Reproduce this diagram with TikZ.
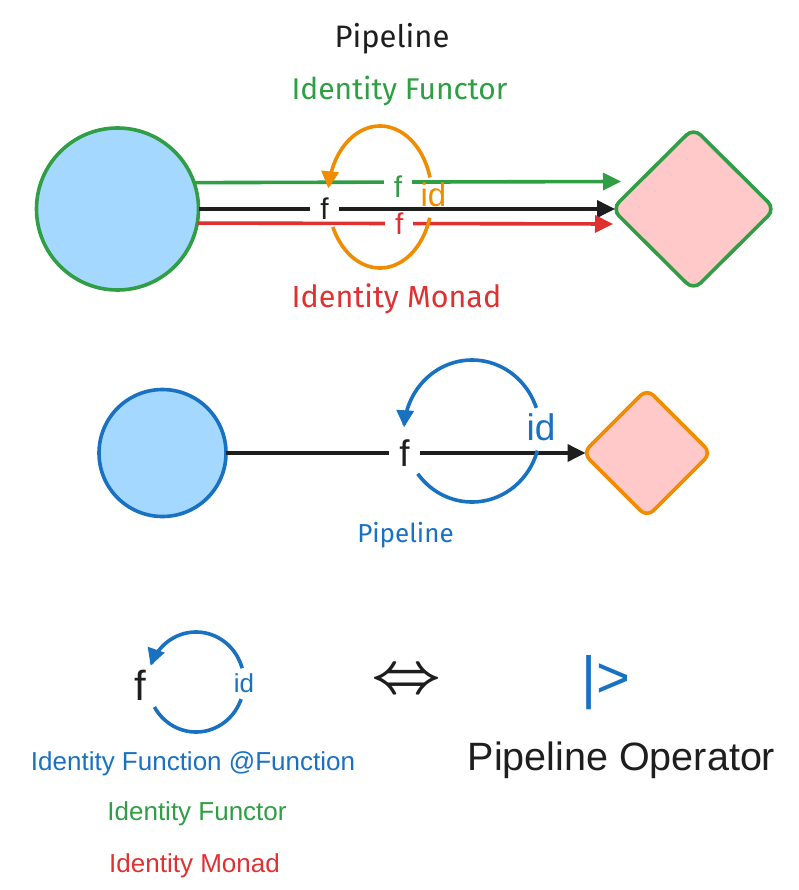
\documentclass[tikz,border=0pt]{standalone}
\usepackage{fontspec}
\usepackage{graphicx}
\setmainfont{Liberation Sans}
\newfontfamily\hand{Fira Sans}
\usetikzlibrary{shapes.geometric,arrows.meta}
\definecolor{cblue}{HTML}{1971C2}
\definecolor{cfill}{HTML}{A5D8FF}
\definecolor{cgreen}{HTML}{2F9E44}
\definecolor{cred}{HTML}{E03131}
\definecolor{corange}{HTML}{F08C00}
\definecolor{cpink}{HTML}{FFC9C9}
\definecolor{cink}{HTML}{1E1E1E}
\newcommand\myfs[1]{\fontsize{#1}{#1}\selectfont}
\begin{document}
\begin{tikzpicture}[x=1pt,y=-1pt,
  ball/.style={circle, draw, fill=cfill, line width=3.6pt, inner sep=0pt, outer sep=0pt},
  gem/.style={diamond, draw, fill=cpink, line width=3.6pt, inner sep=0pt, outer sep=0pt},
  link/.style={line width=3.6pt, -{Triangle[length=18pt,width=17pt]}},
  loopline/.style={line width=3.6pt},
  looparrow/.style={line width=3.6pt, -{Triangle[length=17pt,width=17pt]}},
  lab/.style={fill=white, inner xsep=10pt, inner ysep=1pt, text=cink},
  txt/.style={inner sep=0pt, anchor=base}]
\fill[white] (0,0) rectangle (799,890);
\useasboundingbox (0,0) rectangle (799,890);

% ---------- top section ----------
\node[txt, font={\hand\myfs{31}}, text=cink] (t1) at (392,48) {Pipeline};
\node[txt, font={\hand\myfs{30}}, text=cgreen] (t2) at (399.5,100) {Identity Functor};
\node[txt, font={\hand\myfs{30.5}}, text=cred] (t3) at (396.5,307) {Identity Monad};

\node[ball, draw=cgreen, minimum size=162pt] (c1) at (117.5,209) {};
\node[gem, draw=cgreen, rounded corners=10pt, minimum width=163pt, minimum height=162pt] (d1) at (693.5,209) {};
\coordinate (gend) at (621,181.5);
\coordinate (rend) at (613,224);

\draw[link, cgreen] (c1.19.8) -- node[lab, text=cgreen, pos=.478, yshift=-4.5pt, font=\myfs{30}] (fg) {f} (gend);
\draw[link, cink, shorten >=-3pt] (c1) -- node[lab, pos=.305, font=\myfs{30}] (fk) {f} (d1);
\draw[link, cred] (c1.-10.7) -- node[lab, text=cred, pos=.486, font=\myfs{30}] (fr) {f} (rend);

\draw[loopline, corange] plot[domain=155:17, samples=60, smooth, variable=\t] ({380+52*cos(\t)},{197+71*sin(\t)});
\draw[looparrow, corange] plot[domain=-16:-173, samples=60, smooth, variable=\t] ({380+52*cos(\t)},{197+71*sin(\t)});
\node[inner sep=0pt, text=corange, font=\myfs{33}] (id1) at (433.5,194.5) {id};

% ---------- middle section ----------
\node[ball, draw=cblue, minimum size=127pt] (c2) at (162.5,453) {};
\node[gem, draw=corange, rounded corners=9pt, minimum width=128pt, minimum height=128pt] (d2) at (647,453) {};
\draw[link, cink, shorten >=-2.5pt] (c2) -- node[lab, font=\myfs{37}] (fm) {f} (d2);
\draw[loopline, cblue] plot[domain=143:16, samples=60, smooth, variable=\t] ({472+68*cos(\t)},{431+71*sin(\t)});
\draw[looparrow, cblue] plot[domain=-19:-177, samples=60, smooth, variable=\t] ({472+68*cos(\t)},{431+71*sin(\t)});
\node[inner sep=0pt, text=cblue, font=\myfs{37}] (id2) at (541,427.5) {id};
\node[txt, font={\hand\myfs{26}}, text=cblue] (t4) at (405.5,542) {Pipeline};

% ---------- bottom section ----------
\node[inner sep=0pt, text=cink, font=\myfs{42}] (fb) at (140.5,685) {f};
\draw[loopline, cblue] plot[domain=150:20, samples=50, smooth, variable=\t] ({196+48*cos(\t)},{682+50*sin(\t)});
\draw[looparrow, cblue] plot[domain=-16:-161, samples=50, smooth, variable=\t] ({196+48*cos(\t)},{682+50*sin(\t)});
\node[inner sep=0pt, text=cblue, font=\myfs{26}] (id3) at (244,683) {id};

\node[inner sep=0pt, text=cink] (eq) at (407,681) {\resizebox{70pt}{22pt}{\boldmath$\Leftrightarrow$}};
\node[txt, text=cblue, font=\myfs{58}] (pipe) at (606,697) {|>};
\node[txt, text=cink, font=\myfs{39.5}] (po) at (621.5,770) {Pipeline Operator};

\node[txt, text=cblue, font=\myfs{26}] (l1) at (193,770) {Identity Function @Function};
\node[txt, text=cgreen, font=\myfs{26}] (l2) at (197,820) {Identity Functor};
\node[txt, text=cred, font=\myfs{26}] (l3) at (194.5,872) {Identity Monad};
\end{tikzpicture}
\end{document}
